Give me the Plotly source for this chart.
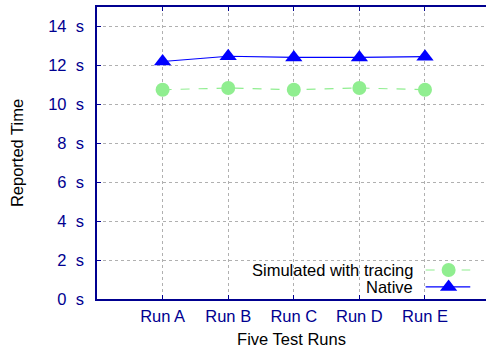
import plotly.graph_objects as go

runs = ["Run A", "Run B", "Run C", "Run D", "Run E"]
run_pos = [1, 2, 3, 4, 5]
simulated = [10.75, 10.84, 10.75, 10.84, 10.75]
native = [12.2, 12.47, 12.41, 12.41, 12.45]
ytick_vals = [0, 2, 4, 6, 8, 10, 12, 14]
ytick_text = [f"{v}\u00a0\u00a0s" for v in ytick_vals]

navy = "#000090"
green = "#90EE90"
blue = "#0000FF"
font = "Liberation Sans, Arial, sans-serif"
fs = 16.5

fig = go.Figure()
fig.add_trace(go.Scatter(x=run_pos, y=simulated, mode="lines+markers",
                         line=dict(color=green, width=1.2, dash="dash"),
                         marker=dict(symbol="circle", size=14, color=green),
                         showlegend=False))
fig.add_trace(go.Scatter(x=run_pos, y=native, mode="lines+markers",
                         line=dict(color=blue, width=1.2),
                         marker=dict(symbol="triangle-up", size=15, color=blue),
                         showlegend=False))

# legend samples
leg_x = [5.01, 5.36, 5.69]
fig.add_trace(go.Scatter(x=leg_x, y=[1.49] * 3, mode="lines",
                         line=dict(color=green, width=1.2, dash="dash"), showlegend=False))
fig.add_trace(go.Scatter(x=[leg_x[1]], y=[1.49], mode="markers",
                         marker=dict(symbol="circle", size=14, color=green), showlegend=False))
fig.add_trace(go.Scatter(x=leg_x, y=[0.62] * 3, mode="lines",
                         line=dict(color=blue, width=1.2), showlegend=False))
fig.add_trace(go.Scatter(x=[leg_x[1]], y=[0.62], mode="markers",
                         marker=dict(symbol="triangle-up", size=15, color=blue), showlegend=False))

fig.add_annotation(x=4.85, y=1.49, xref="x", yref="y", text="Simulated with tracing",
                   showarrow=False, xanchor="right", yanchor="middle",
                   font=dict(family=font, size=fs, color="black"))
fig.add_annotation(x=4.85, y=0.62, xref="x", yref="y", text="Native",
                   showarrow=False, xanchor="right", yanchor="middle",
                   font=dict(family=font, size=fs, color="black"))

fig.update_layout(
    width=486, height=351,
    margin=dict(l=97, r=0, t=7, b=52),
    paper_bgcolor="white", plot_bgcolor="white",
    font=dict(family=font, size=fs, color=navy),
    showlegend=False,
)
fig.update_xaxes(range=[0, 5.93], tickvals=run_pos, ticktext=runs,
                 showgrid=True, gridcolor="#b0b0b0", griddash="dot", gridwidth=1,
                 showline=True, linecolor=navy, linewidth=1.5, mirror="ticks",
                 ticks="inside", ticklen=4, tickcolor=navy,
                 zeroline=False, ticklabelstandoff=1,
                 tickfont=dict(family=font, size=fs, color=navy),
                 title=dict(text="Five Test Runs", standoff=10,
                            font=dict(family=font, size=fs, color="black")))
fig.update_yaxes(range=[0, 15], tickvals=ytick_vals, ticktext=ytick_text,
                 showgrid=True, gridcolor="#b0b0b0", griddash="dot", gridwidth=1,
                 showline=True, linecolor=navy, linewidth=1.5,
                 ticks="inside", ticklen=4, tickcolor=navy,
                 zeroline=False, ticklabelstandoff=8,
                 tickfont=dict(family=font, size=fs, color=navy),
                 title=dict(text="Reported Time", standoff=20,
                            font=dict(family=font, size=fs, color="black")))

fig.write_html("out.html")
